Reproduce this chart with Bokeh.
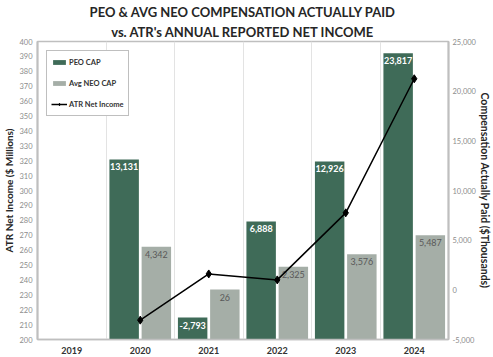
from bokeh.plotting import figure
from bokeh.models import (Range1d, LinearAxis, FixedTicker, Title, Legend, LegendItem,
                          ColumnDataSource, NumeralTickFormatter)
from bokeh.core.properties import value
from bokeh.embed import file_html
from bokeh.resources import INLINE

# ---- data ----
years = ["2019", "2020", "2021", "2022", "2023", "2024"]
data_years = ["2020", "2021", "2022", "2023", "2024"]
peo_cap = [13131, -2793, 6888, 12926, 23817]          # $ thousands
neo_cap = [4342, 26, 2325, 3576, 5487]                # $ thousands
net_income = [213, 244, 240, 285, 375]                # $ millions
left_ticks = list(range(200, 401, 10))
right_ticks = list(range(-5000, 25001, 5000))

FONT = "Lato"
PEO_COLOR = "#3f6b58"
NEO_COLOR = "#a5aea7"

xpos = [years.index(y) + 0.5 for y in data_years]
src = ColumnDataSource(dict(
    x=xpos,
    xp=[x - 0.235 for x in xpos],
    xn=[x + 0.235 for x in xpos],
    peo=peo_cap, neo=neo_cap, ni=net_income,
    peo_lbl=[f"{v:,}" for v in peo_cap],
    neo_lbl=[f"{v:,}" for v in neo_cap],
))

p = figure(width=493, height=357, output_backend="svg", toolbar_location=None,
           x_range=Range1d(0, len(years)), y_range=Range1d(200, 400),
           min_border_left=30, min_border_right=38, min_border_top=2, min_border_bottom=18)
p.extra_y_ranges = {"cap": Range1d(-5000, 25000)}

# titles
p.title = None
t2 = Title(text="vs. ATR's ANNUAL REPORTED NET INCOME", align="center",
           text_font=FONT, text_font_size="13px", text_font_style="bold",
           text_color="#262626", standoff=3, offset=0)
t1 = Title(text="PEO & AVG NEO COMPENSATION ACTUALLY PAID", align="center",
           text_font=FONT, text_font_size="13px", text_font_style="bold",
           text_color="#262626", standoff=2, offset=0)
p.add_layout(t2, "above")
p.add_layout(t1, "above")

# bars
r_peo = p.vbar(x="xp", top="peo", bottom=-5000, width=0.43, source=src,
               y_range_name="cap", fill_color=PEO_COLOR, line_color=None)
r_neo = p.vbar(x="xn", top="neo", bottom=-5000, width=0.43, source=src,
               y_range_name="cap", fill_color=NEO_COLOR, line_color=None)

# bar labels
p.text(x="xp", y="peo", text="peo_lbl", source=src, y_range_name="cap",
       text_align="center", text_baseline="top", y_offset=4,
       text_font=value(FONT), text_font_size="9px", text_font_style="bold",
       text_color="white")
p.text(x="xn", y="neo", text="neo_lbl", source=src, y_range_name="cap",
       text_align="center", text_baseline="top", y_offset=4,
       text_font=value(FONT), text_font_size="9px",
       text_color="#595959")

# net income line
r_line = p.line(x="x", y="ni", source=src, line_color="black", line_width=1.5)
r_pts = p.scatter(x="x", y="ni", source=src, marker="diamond", size=8,
                  fill_color="black", line_color="black")

# axes
p.xaxis.ticker = FixedTicker(ticks=[i + 0.5 for i in range(len(years))])
p.xaxis.major_label_overrides = {i + 0.5: y for i, y in enumerate(years)}
p.xaxis.major_label_text_font = FONT
p.xaxis.major_label_text_font_size = "9px"
p.xaxis.major_label_text_font_style = "bold"
p.xaxis.major_label_text_color = "#333333"
p.xaxis.major_tick_line_color = None
p.xaxis.minor_tick_line_color = None
p.xaxis.major_tick_out = 0
p.xaxis.major_tick_in = 0
p.xaxis.minor_tick_out = 0
p.xaxis.axis_line_color = "#bfbfbf"
p.xaxis.axis_line_width = 1.5
p.xaxis.major_label_standoff = 7

p.yaxis.ticker = FixedTicker(ticks=left_ticks)
p.yaxis.axis_label = "ATR Net Income ($ Millions)"
ax_r = LinearAxis(y_range_name="cap", ticker=FixedTicker(ticks=right_ticks),
                  formatter=NumeralTickFormatter(format="0,0"),
                  axis_label="Compensation Actually Paid ($Thousands)")
p.add_layout(ax_r, "right")
for ax in (p.yaxis[0], ax_r):
    ax.major_label_text_font = FONT
    ax.major_label_text_font_size = "7.5px"
    ax.major_label_text_color = "#8c8c8c"
    ax.axis_label_text_font = FONT
    ax.axis_label_text_font_style = "bold"
    ax.axis_label_text_color = "#262626"
    ax.major_tick_line_color = None
    ax.minor_tick_line_color = None
    ax.major_tick_out = 0
    ax.major_tick_in = 0
    ax.minor_tick_out = 0
    ax.axis_line_color = "#bfbfbf"
    ax.axis_line_width = 2
    ax.major_label_standoff = 5
    ax.axis_label_standoff = 1
p.yaxis.axis_label_text_font_size = "10px"
ax_r.axis_label_text_font_size = "10.5px"
ax_r.major_label_standoff = 4
ax_r.axis_label_standoff = 0

# grid
p.ygrid.grid_line_color = None
p.xgrid.ticker = FixedTicker(ticks=list(range(1, len(years))))
p.xgrid.grid_line_color = "#e3e3e3"
p.outline_line_color = "#bfbfbf"
p.outline_line_width = 1.5

# legend
legend = Legend(items=[
    LegendItem(label="PEO CAP", renderers=[r_peo]),
    LegendItem(label="Avg NEO CAP", renderers=[r_neo]),
    LegendItem(label="ATR Net Income", renderers=[r_line, r_pts]),
])
legend.location = "top_left"
legend.margin = 9
legend.padding = 4
legend.spacing = 7
legend.label_height = 14
legend.glyph_width = 16
legend.glyph_height = 6
legend.label_text_font = FONT
legend.label_text_font_size = "7.5px"
legend.label_text_font_style = "bold"
legend.label_text_color = "#333333"
legend.label_standoff = 2
legend.border_line_color = "#7f7f7f"
legend.border_line_width = 1
legend.background_fill_alpha = 1
p.add_layout(legend, "center")

open("out.html", "w").write(file_html(p, INLINE))
